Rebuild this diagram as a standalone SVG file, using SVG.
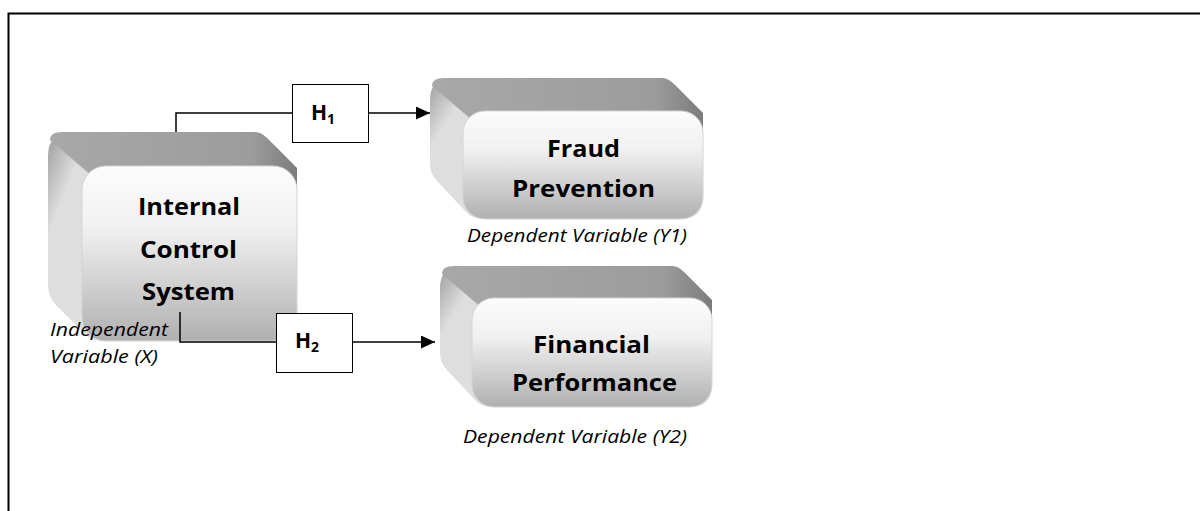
<svg xmlns="http://www.w3.org/2000/svg" width="1200" height="511" viewBox="0 0 1200 511">
<defs>
<linearGradient id="gSide" x1="0" y1="0" x2="0.15" y2="0.05">
<stop offset="0" stop-color="#9c9c9c"/>
<stop offset="1" stop-color="#dedede"/>
</linearGradient>
<linearGradient id="gTop" x1="0" y1="0" x2="1" y2="0">
<stop offset="0" stop-color="#a8a8a8"/>
<stop offset="0.82" stop-color="#9c9c9c"/>
<stop offset="1" stop-color="#7c7c7c"/>
</linearGradient>
<linearGradient id="gFront" x1="0" y1="0" x2="0" y2="1">
<stop offset="0" stop-color="#fcfcfc"/>
<stop offset="0.35" stop-color="#f1f1f1"/>
<stop offset="1" stop-color="#b0b0b0"/>
</linearGradient>
<marker id="arrow" markerUnits="userSpaceOnUse" markerWidth="14" markerHeight="13" refX="14" refY="6.5" orient="auto">
<path d="M0,0 L14,6.5 L0,13 Z" fill="#000"/>
</marker>
</defs>
<style>
.side{fill:url(#gSide);}
.top{fill:url(#gTop);}
.front{fill:url(#gFront);stroke:#d4d4d4;stroke-width:1;}
.lbl{font-family:"Open Sans","Liberation Sans",sans-serif;font-weight:bold;font-size:24px;fill:#000;}
.it{font-family:"Open Sans","Liberation Sans",sans-serif;font-style:italic;font-size:18px;fill:#000;}
.hbox{fill:#fff;stroke:#000;stroke-width:1;}
.h{font-family:"Open Sans","Liberation Sans",sans-serif;font-weight:bold;font-size:21px;fill:#000;}
.conn{fill:none;stroke:#000;stroke-width:1.5;}
</style>
<rect width="1200" height="511" fill="#fff"/>
<path d="M8.5,511 V13.5 H1200" fill="none" stroke="#000" stroke-width="2"/>

<g id="internal-control-system">
<path class="side" d="M48,156 Q48,132 72,132 L255,132 Q261,132 267,138 L293,164 Q297,168 297,190 L297,317 Q297,341 273,341 L106,341 Q92,341 86,335 L56,305 Q48,297 48,285 Z"/>
<path class="top" d="M50,140 Q50,132 62,132 L255,132 Q261,132 267,138 L297,168 L297,200 L92,200 L92,176 Z"/>
<rect class="front" x="82" y="166" width="215" height="175" rx="24"/>
<text class="lbl" x="138" y="215" textLength="102" lengthAdjust="spacingAndGlyphs">Internal</text>
<text class="lbl" x="140" y="258" textLength="97" lengthAdjust="spacingAndGlyphs">Control</text>
<text class="lbl" x="142" y="300" textLength="93" lengthAdjust="spacingAndGlyphs">System</text>
<text class="it" x="50" y="336" textLength="118" lengthAdjust="spacingAndGlyphs">Independent</text>
<text class="it" x="50" y="363" textLength="108" lengthAdjust="spacingAndGlyphs">Variable (X)</text>
</g>

<g id="fraud-prevention">
<path class="side" d="M430,100 Q430,78 452,78 L662,78 Q668,78 674,84 L699,109 Q703,113 703,133 L703,197 Q703,219 681,219 L485,219 Q473,219 467,213 L437,181 Q430,174 430,164 Z"/>
<path class="top" d="M432,86 Q432,78 444,78 L662,78 Q668,78 674,84 L703,113 L703,140 L472,140 L472,120 Z"/>
<rect class="front" x="463" y="111" width="240" height="108" rx="22"/>
<text class="lbl" x="547" y="157" textLength="73" lengthAdjust="spacingAndGlyphs">Fraud</text>
<text class="lbl" x="512" y="197" textLength="143" lengthAdjust="spacingAndGlyphs">Prevention</text>
<text class="it" x="467" y="242" textLength="220" lengthAdjust="spacingAndGlyphs">Dependent Variable (Y1)</text>
</g>

<g id="financial-performance">
<path class="side" d="M440,288 Q440,266 462,266 L672,266 Q678,266 684,272 L708,296 Q712,300 712,320 L712,385 Q712,407 690,407 L494,407 Q482,407 476,401 L447,370 Q440,363 440,353 Z"/>
<path class="top" d="M442,274 Q442,266 454,266 L672,266 Q678,266 684,272 L712,300 L712,330 L482,330 L482,308 Z"/>
<rect class="front" x="472" y="298" width="240" height="109" rx="22"/>
<text class="lbl" x="533" y="353" textLength="117" lengthAdjust="spacingAndGlyphs">Financial</text>
<text class="lbl" x="512" y="391" textLength="165" lengthAdjust="spacingAndGlyphs">Performance</text>
<text class="it" x="463" y="443" textLength="224" lengthAdjust="spacingAndGlyphs">Dependent Variable (Y2)</text>
</g>

<g id="connectors">
<path class="conn" d="M176,132 V113 H292"/>
<path class="conn" d="M368,113 H430" marker-end="url(#arrow)"/>
<path class="conn" d="M180,312 V342 H276"/>
<path class="conn" d="M352,342 H435" marker-end="url(#arrow)"/>
</g>

<g id="h1">
<rect class="hbox" x="292.5" y="84.5" width="76" height="58"/>
<text class="h" x="311" y="120">H<tspan font-size="14" dy="4">1</tspan></text>
</g>

<g id="h2">
<rect class="hbox" x="276.5" y="313.5" width="76" height="59"/>
<text class="h" x="295" y="348">H<tspan font-size="14" dy="4">2</tspan></text>
</g>
</svg>
